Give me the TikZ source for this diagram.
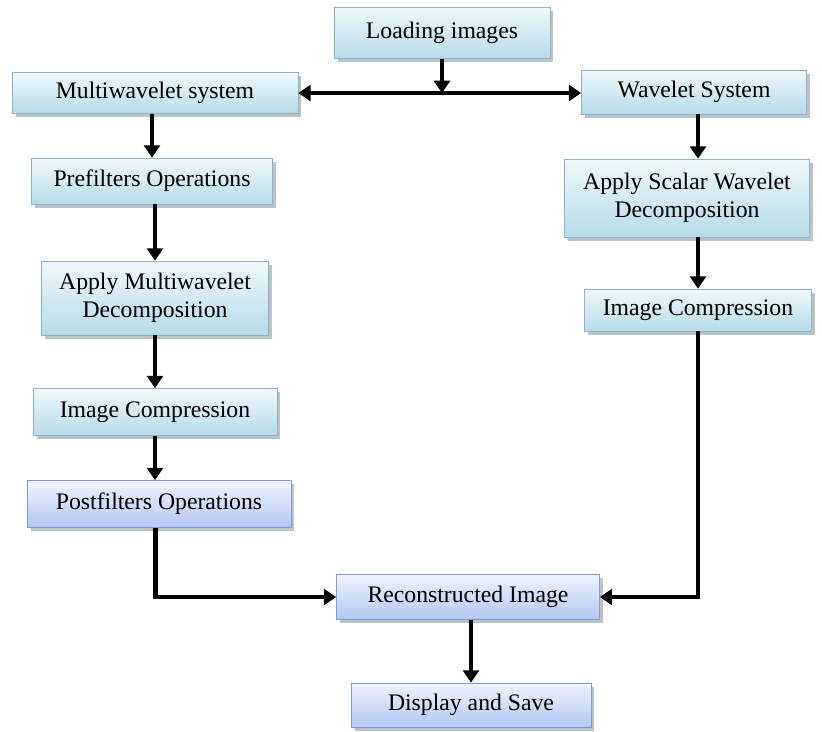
\documentclass[tikz,border=0pt]{standalone}
\usepackage{fontspec}
\setmainfont{Liberation Serif}
\usetikzlibrary{arrows.meta,shadows}
\definecolor{aqua}{HTML}{B5DCE7}
\definecolor{aquaedge}{HTML}{8FB3C4}
\definecolor{periwink}{HTML}{B3C6F3}
\definecolor{periedge}{HTML}{7F9CD6}
\definecolor{shadowgray}{HTML}{9AA9B3}
\tikzset{
  stepbox/.style={
    rectangle, draw=aquaedge, top color=aqua!20, bottom color=aqua,
    thin, align=center, inner sep=2pt,
    font=\fontsize{13.5}{16}\selectfont,
    drop shadow={shadow xshift=2pt, shadow yshift=-2pt, fill=shadowgray, opacity=0.7}
  },
  outbox/.style={
    stepbox, draw=periedge, top color=periwink!20, bottom color=periwink
  },
  flow/.style={
    -{Triangle[length=7pt, width=9pt]}, line width=2.2pt, black
  },
  flow/.default=2.2pt,
}
\begin{document}
\begin{tikzpicture}[x=0.02cm, y=-0.02cm]
    \useasboundingbox (0,0) rectangle (822,731);
    % top
    \node[stepbox, minimum width=4.32cm, minimum height=1.02cm] (load) at (442,33) {Loading images};
    \node[stepbox, minimum width=5.72cm, minimum height=0.82cm] (multi) at (155,93) {Multiwavelet system};
    \node[stepbox, minimum width=4.5cm, minimum height=0.88cm] (wave) at (694,92) {Wavelet System};
    % left branch
    \node[stepbox, minimum width=4.82cm, minimum height=0.92cm] (prefilt) at (152,181) {Prefilters Operations};
    \node[stepbox, minimum width=4.54cm, minimum height=1.48cm] (mdecomp) at (155,298) {Apply Multiwavelet\\Decomposition};
    \node[stepbox, minimum width=4.88cm, minimum height=0.94cm] (lcomp) at (155,412) {Image Compression};
    \node[outbox, minimum width=5.28cm, minimum height=0.94cm] (postfilt) at (159,504) {Postfilters Operations};
    % right branch
    \node[stepbox, minimum width=4.9cm, minimum height=1.56cm] (sdecomp) at (687,198) {Apply Scalar Wavelet\\Decomposition};
    \node[stepbox, minimum width=4.54cm, minimum height=0.84cm] (rcomp) at (698,310) {Image Compression};
    % bottom
    \node[outbox, minimum width=5.26cm, minimum height=0.9cm] (recon) at (468,597) {Reconstructed Image};
    \node[outbox, minimum width=4.8cm, minimum height=0.88cm] (display) at (471,705) {Display and Save};
    \coordinate (fork) at (load.south |- multi.east);
    \draw[flow] (load) -- (fork);
    \draw[flow, {Triangle[length=7pt, width=9pt]}-{Triangle[length=7pt, width=9pt]}] (multi.east) -- (multi.east -| wave.west);
    \draw[flow] (multi.south -| prefilt) -- (prefilt);
    \draw[flow] (prefilt.south -| mdecomp) -- (mdecomp);
    \draw[flow] (mdecomp) -- (lcomp);
    \draw[flow] (lcomp) -- (lcomp |- postfilt.north);
    \draw[flow] (wave.south -| rcomp) -- (sdecomp.north -| rcomp);
    \draw[flow] (sdecomp.south -| rcomp) -- (rcomp);
    \draw[flow, line width=2.8pt] ([xshift=-2pt]postfilt.south) |- (recon.west);
    \draw[flow, line width=2.8pt] (rcomp.south) |- (recon.east);
    \draw[flow] (recon.south -| display) -- (display);
\end{tikzpicture}
\end{document}
